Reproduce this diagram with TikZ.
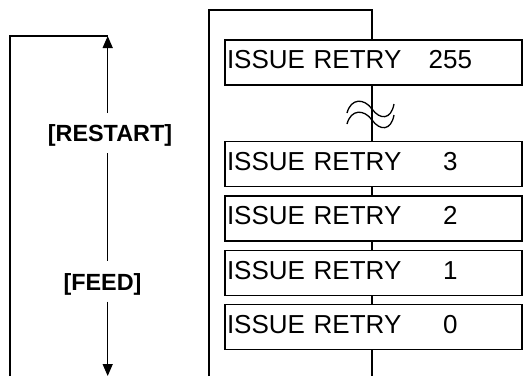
\documentclass[tikz,border=0pt]{standalone}
\usepackage{fontspec}
\setmainfont{Liberation Sans}
\usepackage{tikz}
\usetikzlibrary{positioning, arrows.meta}

\newcommand{\retry}[1]{ISSUE RETRY\makebox[98pt][c]{#1}}

\begin{document}
\begin{tikzpicture}[
  x=1pt, y=-1pt,
  font=\fontsize{26}{30}\selectfont,
  frame/.style={line width=1.9pt},
  disp/.style={draw, fill=white, line width=1.4pt, text width=293pt,
    inner xsep=2pt, inner ysep=0pt, minimum height=45pt,
    text height=18.6pt, text depth=6pt, align=left},
  key/.style={font=\fontsize{23.4}{27}\selectfont\bfseries, inner xsep=0pt,
    inner ysep=9.5pt, text height=19pt, text depth=2pt},
  arrow/.style={-{Triangle[width=10pt,length=12pt]}, line width=1.4pt},
]
  \useasboundingbox (0,0) rectangle (523,376);

  % key sequence on the left
  \coordinate (top) at (107.7,36);
  \coordinate (bot) at (107.7,376);
  \node[key] (restart) at (110,133.2) {[RESTART]};
  \node[key] (feed) at (102.5,281.5) {[FEED]};

  \draw[frame] (10,376) |- (top);
  \draw[arrow] (top |- restart.north) -- (top);
  \draw[line width=1.4pt] (top |- restart.south) -- (top |- feed.north);
  \draw[arrow] (top |- feed.south) -- (bot);

  % display messages
  \node[disp] (r255) at (373.5,62.5) {\retry{255}};
  \node[disp, below=55pt of r255] (r3) {\retry{3}};
  \node[disp, below=8pt of r3] (r2) {\retry{2}};
  \node[disp, below=8pt of r2] (r1) {\retry{1}};
  \node[disp, below=8pt of r1] (r0) {\retry{0}};

  \coordinate (ftop) at (372,10);
  \coordinate (fbot) at (372,376);
  \draw[frame] (209,376) |- (ftop) -- (ftop |- r255.north);
  \draw[frame] (ftop |- r255.south) -- (ftop |- r3.north);
  \draw[frame] (ftop |- r3.south) -- (ftop |- r2.north);
  \draw[frame] (ftop |- r2.south) -- (ftop |- r1.north);
  \draw[frame] (ftop |- r1.south) -- (ftop |- r0.north);
  \draw[frame] (ftop |- r0.south) -- (fbot);

  % break mark
  \coordinate (brk) at (372,111);
  \draw[line width=1.3pt, shift={(brk)}]
    (-25,2) .. controls (-21,-13) and (-8,-13) .. (0,-2)
    .. controls (8,9) and (19,9) .. (22,-7);
  \draw[line width=1.3pt, shift={(brk)}]
    (-25,13) .. controls (-21,-2) and (-8,-2) .. (0,9)
    .. controls (8,20) and (19,20) .. (22,4);
\end{tikzpicture}
\end{document}
